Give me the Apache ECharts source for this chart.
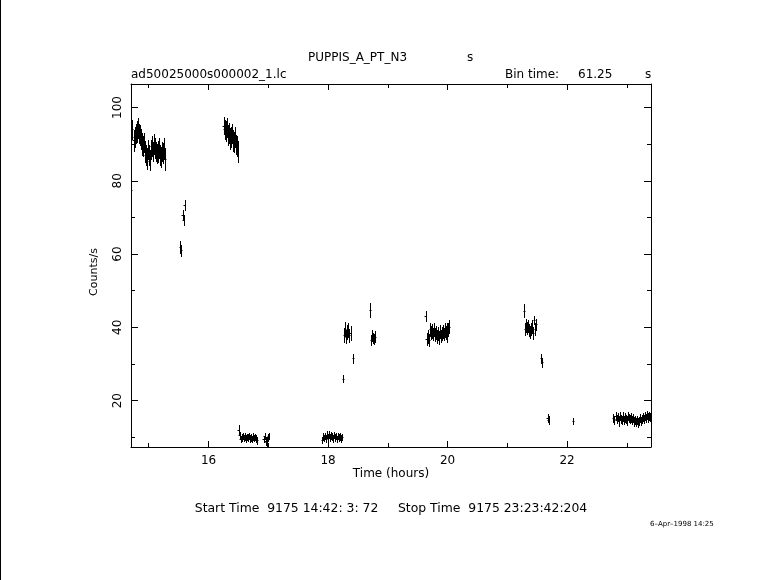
<!DOCTYPE html>
<html>
<head>
<meta charset="utf-8">
<script src="https://cdn.jsdelivr.net/npm/echarts@6/dist/echarts.min.js"></script>
<style>
html,body{margin:0;padding:0;background:#fff;}
#chart{width:781px;height:580px;}
</style>
</head>
<body>
<div id="chart"></div>
<script>
// ---- Data (time in hours, rate in counts/s, 1-sigma error) ----
const times = [
  14.711,14.728,14.745,14.762,14.779,14.796,14.813,14.830,14.847,14.864,14.881,14.898,14.915,14.932,14.949,14.966,14.983,
  15.000,15.017,15.034,15.051,15.068,15.085,15.102,15.119,15.136,15.153,15.170,15.187,15.204,15.221,15.238,15.255,15.272,
  15.525,15.542,15.565,15.582,15.599,
  16.253,16.270,16.287,16.304,16.321,16.338,16.355,16.372,16.389,16.406,16.423,16.440,16.457,16.474,16.491,
  16.508,16.525,16.542,16.559,16.576,16.593,16.610,16.627,16.644,16.661,16.678,16.695,16.712,16.729,16.746,16.763,16.780,16.797,16.814,
  16.922,16.939,16.956,16.973,16.990,17.007,
  17.900,17.917,17.934,17.951,17.968,17.985,18.002,18.019,18.036,18.053,18.070,18.087,18.104,18.121,18.138,18.155,18.172,18.189,18.206,18.223,18.240,
  18.257,18.274,18.291,18.308,18.325,18.342,18.359,18.376,18.424,
  18.703,18.720,18.737,18.754,18.771,18.788,
  19.639,19.656,19.673,19.690,19.707,19.724,19.741,19.758,19.775,19.792,19.809,19.826,19.843,19.860,19.877,19.894,19.911,19.928,19.945,19.962,19.979,19.996,20.013,20.030,
  21.280,21.297,21.314,21.331,21.348,21.365,21.382,21.399,21.416,21.433,21.450,21.467,21.484,
  21.565,21.582,21.676,21.693,22.100,
  22.776,22.793,22.810,22.827,22.844,22.861,22.878,22.895,22.912,22.929,22.946,22.963,22.980,22.997,23.014,23.031,23.048,23.065,23.082,
  23.099,23.116,23.133,23.150,23.167,23.184,23.201,23.218,23.235,23.252,23.269,23.286,23.303,23.320,23.337,23.354,23.371,23.388
];
const rates = [
  77.5,94.0,91.0,92.0,93.0,93.5,94.5,93.0,92.5,91.5,90.0,89.5,90.5,88.0,87.0,86.0,88.5,
  87.0,85.5,88.5,89.5,88.0,90.0,89.0,88.0,87.5,88.0,89.0,87.0,86.5,88.0,87.5,89.0,86.0,
  62.0,61.0,70.7,69.3,73.3,
  95.0,94.0,93.5,94.5,92.5,93.0,91.5,92.0,93.0,91.0,90.5,92.0,90.0,89.5,88.0,
  12.0,10.5,9.5,10.0,10.3,9.8,10.2,9.6,10.1,9.9,10.4,9.7,10.0,9.5,10.2,9.8,10.1,9.6,9.2,
  9.5,10.3,9.0,8.8,10.0,10.4,
  9.3,10.2,9.8,10.4,9.6,10.7,10.1,10.8,9.9,10.5,10.2,9.7,10.6,10.0,10.3,9.5,10.4,9.9,10.2,9.6,10.1,
  26.0,38.0,39.5,37.5,38.8,39.2,37.8,38.5,31.5,
  44.8,36.5,37.8,37.0,36.8,37.5,
  43.0,36.8,37.5,36.5,39.5,38.5,39.0,38.2,39.4,38.0,38.6,37.5,38.3,37.2,38.8,37.6,38.4,38.9,38.2,39.3,38.7,38.5,39.5,40.2,
  44.5,39.5,40.5,39.8,40.3,39.2,38.8,39.6,40.2,38.5,42.0,39.5,40.8,
  31.5,30.5,15.3,14.7,14.4,
  15.2,14.6,15.8,14.9,15.5,14.4,15.9,15.1,14.7,15.6,14.8,15.4,15.0,14.5,15.7,15.2,14.9,15.5,14.6,
  15.3,14.3,14.8,14.1,14.6,14.0,14.5,15.2,14.4,15.0,15.6,14.9,15.8,15.3,16.0,15.4,15.9,15.5
];
const errors = [
  2.2,2.6,2.8,2.7,2.6,2.8,2.7,2.6,2.8,2.7,2.9,2.7,2.6,2.8,2.7,2.9,2.6,
  2.8,2.7,2.7,2.8,2.6,2.7,2.8,2.7,2.6,2.8,2.7,2.7,2.8,2.6,2.7,2.8,3.0,
  1.6,1.5,1.4,1.4,1.4,
  2.3,2.6,2.7,2.6,2.8,2.7,2.9,2.7,2.6,2.8,2.7,2.8,2.6,2.7,2.9,
  1.3,0.9,0.9,0.9,0.9,0.9,0.9,0.9,0.9,0.9,0.9,0.9,0.9,0.9,0.9,0.9,0.9,0.9,0.9,
  0.9,0.9,1.0,1.2,0.9,0.9,
  0.9,0.9,0.9,0.9,0.9,0.9,0.9,0.9,0.9,0.9,0.9,0.9,0.9,0.9,0.9,0.9,0.9,0.9,0.9,0.9,0.9,
  1.0,1.9,1.9,1.8,1.9,1.9,1.8,1.9,1.1,
  1.9,1.4,1.4,1.4,1.4,1.4,
  1.4,1.6,1.7,1.6,1.8,1.8,1.8,1.7,1.8,1.7,1.8,1.7,1.8,1.7,1.8,1.7,1.8,1.8,1.7,1.8,1.8,2.6,1.8,1.8,
  1.8,1.6,1.7,1.6,1.7,1.6,1.7,1.6,1.7,1.6,1.2,1.7,1.6,
  1.2,1.2,1.0,1.0,0.8,
  1.1,1.1,1.2,1.1,1.1,1.2,1.1,1.1,1.1,1.2,1.1,1.1,1.1,1.2,1.1,1.1,1.1,1.2,1.1,
  1.1,1.2,1.1,1.1,1.1,1.2,1.1,1.1,1.1,1.2,1.1,1.1,1.2,1.1,1.1,1.2,1.1,1.1
];
const xMajorTicks = [16, 18, 20, 22];
const xMinorTicks = [15, 17, 19, 21, 23];
const yMajorTicks = [20, 40, 60, 80, 100];
const yMinorTicks = [10, 30, 50, 70, 90];
const xRange = [14.703, 23.404];
const yRange = [7.35, 106.4];
const binTimeSec = 61.25;
const titleText = 'PUPPIS_A_PT_N3';
const fileText = 'ad50025000s000002_1.lc';
const startStopText = 'Start Time  9175 14:42: 3: 72     Stop Time  9175 23:23:42:204';
const dateText = '6\u2013Apr\u20131998 14:25';

// ---- Chart ----
const FONT = 'DejaVu Sans';
const chart = echarts.init(document.getElementById('chart'), null, {renderer: 'canvas'});
const binH = binTimeSec / 3600;
const pts = times.map((t, i) => [t, rates[i], errors[i]]);

function xAxisDef(pos, ticks, len, showLine, showLabel) {
  return {
    type: 'value', position: pos, min: xRange[0], max: xRange[1], gridIndex: 0,
    axisLine: {show: showLine, onZero: false, lineStyle: {color: '#000', width: 1}},
    axisTick: {show: true, inside: true, length: len, customValues: ticks, lineStyle: {color: '#000', width: 1}},
    axisLabel: {show: showLabel, customValues: ticks, color: '#000', fontFamily: FONT, fontSize: 12, margin: 8},
    splitLine: {show: false}
  };
}
function yAxisDef(pos, ticks, len, showLine, showLabel) {
  return {
    type: 'value', position: pos, min: yRange[0], max: yRange[1], gridIndex: 0,
    axisLine: {show: showLine, onZero: false, lineStyle: {color: '#000', width: 1}},
    axisTick: {show: true, inside: true, length: len, customValues: ticks, lineStyle: {color: '#000', width: 1}},
    axisLabel: {show: showLabel, customValues: ticks, rotate: 90, color: '#000', fontFamily: FONT, fontSize: 12, margin: 7},
    splitLine: {show: false}
  };
}

const option = {
  animation: false,
  backgroundColor: '#fff',
  grid: {left: 131, top: 84, width: 520, height: 363, show: false},
  xAxis: [
    xAxisDef('bottom', xMajorTicks, 6, true, true),
    xAxisDef('bottom', xMinorTicks, 4, false, false),
    xAxisDef('top', xMajorTicks, 6, true, false),
    xAxisDef('top', xMinorTicks, 4, false, false)
  ],
  yAxis: [
    yAxisDef('left', yMajorTicks, 7, true, true),
    yAxisDef('left', yMinorTicks, 4, false, false),
    yAxisDef('right', yMajorTicks, 7, true, false),
    yAxisDef('right', yMinorTicks, 4, false, false)
  ],
  series: [{
    type: 'custom',
    xAxisIndex: 0, yAxisIndex: 0,
    clip: true,
    data: pts,
    renderItem: function (params, api) {
      const t = api.value(0), v = api.value(1), e = api.value(2);
      const pTop = api.coord([t, v + e]);
      const pBot = api.coord([t, v - e]);
      const pL = api.coord([t - binH / 2, v]);
      const pR = api.coord([t + binH / 2, v]);
      const x = Math.round(pTop[0]) + 0.5;
      const yc = Math.round(pL[1]) + 0.5;
      return {
        type: 'group',
        children: [
          {type: 'line', shape: {x1: x, y1: Math.round(pTop[1]), x2: x, y2: Math.round(pBot[1]) + 1},
           style: {stroke: '#000', lineWidth: 1}},
          {type: 'line', shape: {x1: Math.round(pL[0]) - 0.5, y1: yc, x2: Math.round(pR[0]) + 0.5, y2: yc},
           style: {stroke: '#000', lineWidth: 1}}
        ]
      };
    }
  }],
  graphic: [
    {type: 'line', shape: {x1: 0.5, y1: 0, x2: 0.5, y2: 580}, style: {stroke: '#000', lineWidth: 1}},
    {type: 'text', x: 308, y: 58, style: {text: titleText, font: '12px "DejaVu Sans"', fill: '#000', textVerticalAlign: 'middle'}},
    {type: 'text', x: 467, y: 58, style: {text: 's', font: '12px "DejaVu Sans"', fill: '#000', textVerticalAlign: 'middle'}},
    {type: 'text', x: 131, y: 75, style: {text: fileText, font: '12px "DejaVu Sans"', fill: '#000', textVerticalAlign: 'middle'}},
    {type: 'text', x: 505, y: 75, style: {text: 'Bin time:', font: '12px "DejaVu Sans"', fill: '#000', textVerticalAlign: 'middle'}},
    {type: 'text', x: 578, y: 75, style: {text: String(binTimeSec), font: '12px "DejaVu Sans"', fill: '#000', textVerticalAlign: 'middle'}},
    {type: 'text', x: 645, y: 75, style: {text: 's', font: '12px "DejaVu Sans"', fill: '#000', textVerticalAlign: 'middle'}},
    {type: 'text', x: 391, y: 474, style: {text: 'Time (hours)', font: '12px "DejaVu Sans"', fill: '#000', textAlign: 'center', textVerticalAlign: 'middle'}},
    {type: 'text', x: 391, y: 509, style: {text: startStopText, font: '12.4px "DejaVu Sans"', fill: '#000', textAlign: 'center', textVerticalAlign: 'middle'}},
    {type: 'text', x: 650, y: 524, style: {text: dateText, font: '7px "DejaVu Sans"', fill: '#000', textVerticalAlign: 'middle'}},
    {type: 'text', x: 94, y: 272, rotation: Math.PI / 2, style: {text: 'Counts/s', font: '11px "DejaVu Sans"', fill: '#000', textAlign: 'center', textVerticalAlign: 'middle'}}
  ]
};
chart.setOption(option);
</script>
</body>
</html>
